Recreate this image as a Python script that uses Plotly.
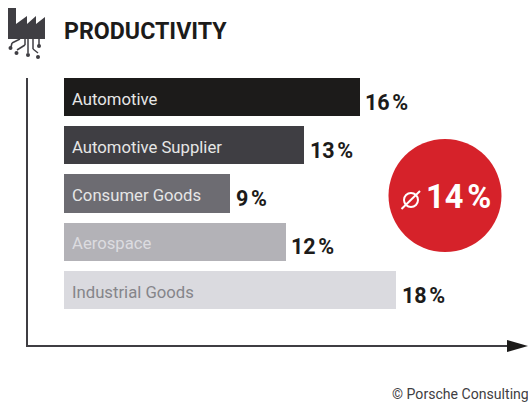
import plotly.graph_objects as go

categories = ["Automotive", "Automotive Supplier", "Consumer Goods", "Aerospace", "Industrial Goods"]
values = [16, 13, 9, 12, 18]
bar_colors = ["#1c1b1a", "#3f3e43", "#6d6c72", "#b3b2b7", "#dadadf"]
name_colors = ["#e6e6e6", "#e6e6e6", "#e6e6e6", "#dcdce0", "#85858a"]
average_label = "14\u202f%"
title_text = "PRODUCTIVITY"
credit_text = "© Porsche Consulting"

W, H = 528, 405
FONT = "Roboto"


def px(x):
    return x / W


def py(y):
    return 1 - y / H


fig = go.Figure()
fig.add_bar(
    y=categories,
    x=values,
    orientation="h",
    width=0.79,
    marker=dict(color=bar_colors, line_width=0),
    hoverinfo="skip",
)

annotations = []
for name, value, color in zip(categories, values, name_colors):
    # category name inside the bar
    annotations.append(dict(
        x=0, y=name, xref="x", yref="y", xanchor="left", yanchor="middle",
        xshift=6, yshift=-2, text=name, showarrow=False,
        font=dict(family=FONT, size=16.7, color=color),
    ))
    # value just past the bar end, sitting a little low
    annotations.append(dict(
        x=value, y=name, xref="x", yref="y", xanchor="left", yanchor="middle",
        xshift=3.5, yshift=-5, text=f"<b>{value}\u202f%</b>", showarrow=False,
        font=dict(family=FONT, size=21.5, color="#1c1b1a"),
    ))
annotations += [
    dict(x=px(62), y=py(31), xref="paper", yref="paper", xanchor="left", yanchor="middle",
         text=f"<b>{title_text}</b>", showarrow=False,
         font=dict(family=FONT, size=23.2, color="#1c1b1a")),
    dict(x=px(531), y=py(394), xref="paper", yref="paper", xanchor="right", yanchor="middle",
         text=credit_text, showarrow=False,
         font=dict(family=FONT, size=14.1, color="#3f3e43")),
    dict(x=px(458), y=py(197), xref="paper", yref="paper", xanchor="center", yanchor="middle",
         text=f"<b>{average_label}</b>", showarrow=False,
         font=dict(family=FONT, size=32.5, color="white")),
]


def line(x0, y0, x1, y1, color="#3f3e43", width=2):
    return dict(type="line", xref="paper", yref="paper", x0=px(x0), y0=py(y0), x1=px(x1), y1=py(y1),
                line=dict(color=color, width=width))


def path(points, color):
    d = "M " + " L ".join(f"{px(x)},{py(y)}" for x, y in points) + " Z"
    return dict(type="path", xref="paper", yref="paper", path=d, fillcolor=color, line_width=0)


def dot(x, y, r, color="#3f3e43"):
    return dict(type="circle", xref="paper", yref="paper", x0=px(x - r), x1=px(x + r),
                y0=py(y + r), y1=py(y - r), fillcolor=color, line_width=0)


shapes = [
    # axes and arrowhead
    line(27, 78, 27, 346),
    line(26, 346, 512, 346),
    path([(507, 340), (528, 346), (507, 352)], "#1c1b1a"),
    # average badge
    dot(445, 195.5, 56.5, "#d6222a"),
    # diameter sign
    dict(type="circle", xref="paper", yref="paper", x0=px(404), x1=px(418), y0=py(207), y1=py(193),
         line=dict(color="white", width=2)),
    line(401.5, 209, 420, 191, "white", 2),
    # factory silhouette
    path([(8, 8), (16, 8), (16, 24), (27, 16), (27, 24), (36, 16), (36, 24), (45, 17), (45, 39), (8, 39)], "#3f3e43"),
    # circuit traces
    line(20, 39, 12, 43, width=1.5), line(12, 43, 11, 47, width=1.5),
    line(25, 39, 25, 45, width=1.5), line(25, 45, 17, 50, width=1.5),
    line(28, 39, 28, 53, width=1.5),
    line(33, 39, 33, 49, width=1.5), line(33, 49, 38, 53, width=1.5),
    line(39, 39, 39, 45, width=1.5),
    dot(10.5, 48, 2), dot(16.5, 53, 2), dot(28, 55, 2), dot(38, 57, 2), dot(39, 46, 2),
]

fig.update_layout(
    width=W, height=H,
    margin=dict(l=0, r=0, t=0, b=0),
    paper_bgcolor="white", plot_bgcolor="white",
    showlegend=False,
    bargap=0,
    xaxis=dict(domain=[px(64), 1], range=[0, 464 / 18.47], visible=False, fixedrange=True),
    yaxis=dict(domain=[0, 1], type="category", categoryorder="array", categoryarray=categories,
               range=[(405 - 97) / 48.25, -97 / 48.25], visible=False, fixedrange=True),
    annotations=annotations,
    shapes=shapes,
)

fig.write_html("out.html", config={"displayModeBar": False})
